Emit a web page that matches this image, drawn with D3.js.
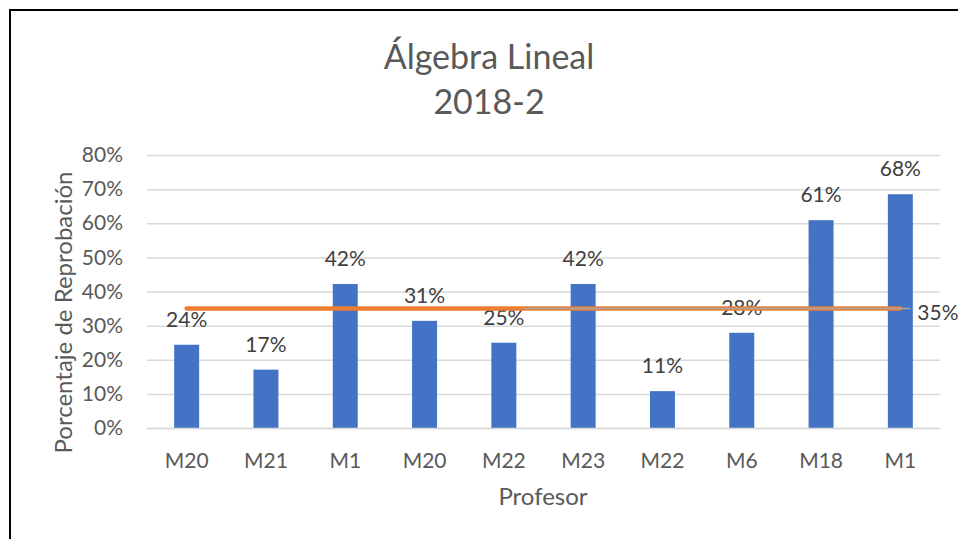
<!DOCTYPE html>
<html>
<head>
<meta charset="utf-8">
<script src="https://cdn.jsdelivr.net/npm/d3@7"></script>
<style>
  body { margin: 0; background: #fff; }
  svg { display: block; }
  text { font-family: Lato, "Open Sans", sans-serif; }
</style>
</head>
<body>
<svg id="chart" width="958" height="539"></svg>
<script>
// ---- data ----
const categories = ["M20", "M21", "M1", "M20", "M22", "M23", "M22", "M6", "M18", "M1"];
const reprobacion = [24.4, 17.1, 42.2, 31.4, 25.0, 42.2, 10.8, 27.9, 60.9, 68.5];
const barLabels = ["24%", "17%", "42%", "31%", "25%", "42%", "11%", "28%", "61%", "68%"];
const promedio = 35.0;
const promedioLabel = "35%";
const yTicks = [0, 10, 20, 30, 40, 50, 60, 70, 80];
const titleLines = ["Álgebra Lineal", "2018-2"];
const yTitle = "Porcentaje de Reprobación";
const xTitle = "Profesor";

// ---- layout ----
const svg = d3.select("#chart");
const plot = { left: 147, right: 940, top: 155, bottom: 428 };
const textColor = "#595959";

// chart border
svg.append("rect")
  .attr("x", 10).attr("y", 10)
  .attr("width", 960).attr("height", 540)
  .attr("fill", "#fff").attr("stroke", "#000").attr("stroke-width", 2);

const idx = categories.map((d, i) => i);
const x = d3.scaleBand().domain(idx).range([plot.left, plot.right]).paddingInner(0.685).paddingOuter(0.3425);
const y = d3.scaleLinear().domain([0, 80]).range([plot.bottom, plot.top]);

// gridlines + y axis labels
const yAxis = svg.append("g")
  .attr("transform", `translate(${plot.left},0)`)
  .call(d3.axisLeft(y).tickValues(yTicks).tickSize(-(plot.right - plot.left)).tickPadding(24).tickFormat(d => d + "%"));
yAxis.select(".domain").remove();
yAxis.selectAll(".tick line").attr("stroke", "#d9d9d9").attr("stroke-width", 1.5);
yAxis.selectAll(".tick text").attr("fill", textColor).attr("font-size", 21);

// bars
svg.append("g").selectAll("rect")
  .data(reprobacion)
  .join("rect")
  .attr("x", (d, i) => x(i))
  .attr("width", x.bandwidth())
  .attr("y", d => y(d))
  .attr("height", d => y(0) - y(d))
  .attr("fill", "#4472C4");

// x axis labels
const xAxis = svg.append("g")
  .attr("transform", `translate(0,${plot.bottom})`)
  .call(d3.axisBottom(x).tickSize(0).tickPadding(25).tickFormat(i => categories[i]));
xAxis.select(".domain").attr("stroke", "#d9d9d9").attr("stroke-width", 1.5);
xAxis.selectAll(".tick text").attr("fill", textColor).attr("font-size", 21);

// bar labels
svg.append("g").selectAll("text")
  .data(reprobacion)
  .join("text")
  .attr("x", (d, i) => x(i) + x.bandwidth() / 2)
  .attr("y", d => y(d) - 18)
  .attr("text-anchor", "middle")
  .attr("fill", "#404040")
  .attr("font-size", 21)
  .text((d, i) => barLabels[i]);

// average line
const xFirst = x(0) + x.bandwidth() / 2;
const xLast = x(idx.length - 1) + x.bandwidth() / 2;
svg.append("line")
  .attr("x1", xFirst).attr("x2", xLast)
  .attr("y1", y(promedio)).attr("y2", y(promedio))
  .attr("stroke", "#ED7D31").attr("stroke-width", 4.5).attr("stroke-linecap", "round");
// leader line of the label
svg.append("line")
  .attr("x1", x(4) + x.bandwidth() / 2 + 20).attr("x2", xLast + 10)
  .attr("y1", y(promedio)).attr("y2", y(promedio))
  .attr("stroke", "#a6a6a6").attr("stroke-width", 1.5);
svg.append("text")
  .attr("x", xLast + 17)
  .attr("y", y(promedio) + 11)
  .attr("fill", "#404040")
  .attr("font-size", 21)
  .text(promedioLabel);

// title
svg.append("g").selectAll("text")
  .data(titleLines)
  .join("text")
  .attr("x", 489)
  .attr("y", (d, i) => 69 + i * 45)
  .attr("text-anchor", "middle")
  .attr("fill", textColor)
  .attr("font-size", 34)
  .text(d => d);

// axis titles
svg.append("text")
  .attr("transform", `translate(72,${(plot.top + plot.bottom) / 2 + 21}) rotate(-90)`)
  .attr("text-anchor", "middle")
  .attr("fill", textColor)
  .attr("font-size", 24)
  .text(yTitle);
svg.append("text")
  .attr("x", 543).attr("y", 505)
  .attr("text-anchor", "middle")
  .attr("fill", textColor)
  .attr("font-size", 24)
  .text(xTitle);
</script>
</body>
</html>
